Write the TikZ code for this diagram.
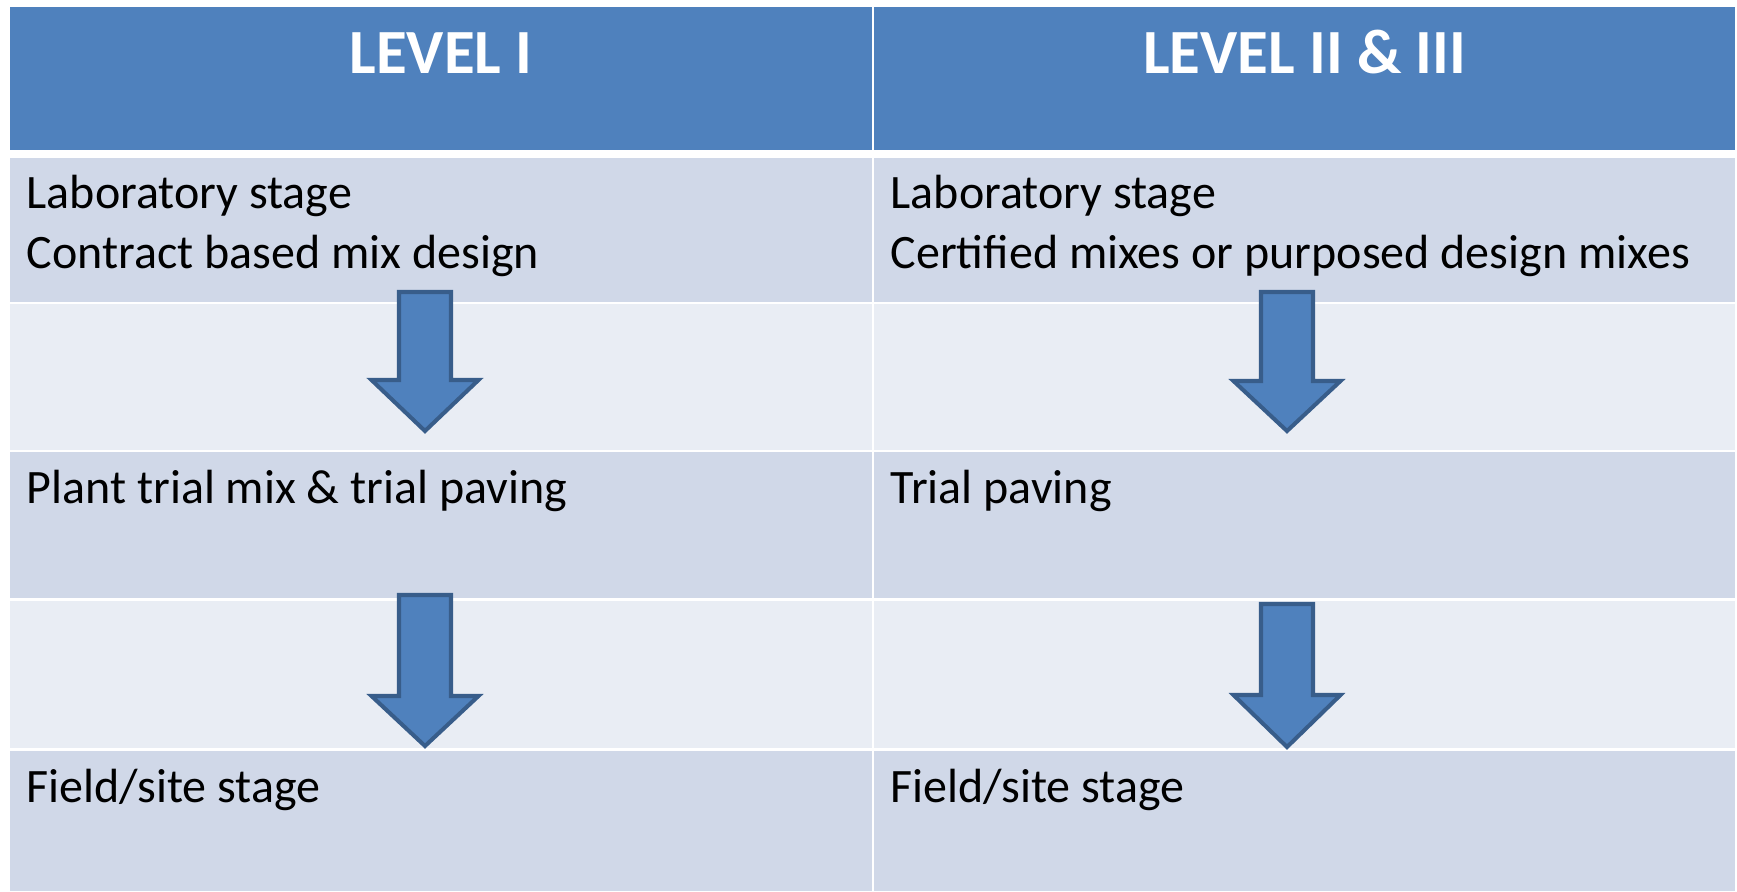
\documentclass[tikz,border=0pt]{standalone}
\usepackage{fontspec}
\setmainfont{Carlito}

\definecolor{headblue}{HTML}{4F81BD}
\definecolor{arrowedge}{HTML}{385D8A}
\definecolor{stagefill}{HTML}{D0D8E8}
\definecolor{gapfill}{HTML}{E9EDF4}

% block arrow: centre x, top y, y of the head step, tip y
\newcommand{\stagearrow}[4]{%
  \draw[blockarrow] (#1-0.26,#2) -- (#1+0.26,#2) -- (#1+0.26,#3) -- (#1+0.535,#3)
    -- (#1,#4) -- (#1-0.535,#3) -- (#1-0.26,#3) -- cycle;}

\begin{document}
\begin{tikzpicture}[
    cell/.style={rectangle, anchor=north west, inner sep=0pt, outer sep=0pt},
    leftcol/.style={cell, minimum width=8.62cm},
    rightcol/.style={cell, minimum width=8.61cm},
    headcell/.style={fill=headblue, minimum height=1.43cm},
    stagecell/.style={fill=stagefill},
    gapcell/.style={fill=gapfill},
    headtext/.style={anchor=base, inner sep=0pt, text=white, font=\fontsize{17.9pt}{21.8pt}\selectfont\bfseries},
    stagetext/.style={anchor=base west, inner sep=0pt, align=left, font=\fontsize{13.66pt}{16.8pt}\selectfont},
    blockarrow/.style={fill=headblue, draw=arrowedge, line width=1.15pt, line join=miter}
]
\useasboundingbox (0,0) rectangle (17.37,8.91);

% Header row
\node[leftcol, headcell] (headA) at (0.10,8.84) {};
\node[rightcol, headcell] (headB) at (8.74,8.84) {};
\node[headtext] (levA) at ([yshift=-0.66cm]headA.north) {LEVEL I};
\node[headtext] (levB) at ([yshift=-0.66cm]headB.north) {LEVEL II \& III};

% Left column
\node[leftcol, stagecell, minimum height=1.44cm] (a1) at (0.10,7.33) {};
\node[leftcol, gapcell, minimum height=1.46cm] (a2) at (0.10,5.87) {};
\node[leftcol, stagecell, minimum height=1.46cm] (a3) at (0.10,4.39) {};
\node[leftcol, gapcell, minimum height=1.47cm] (a4) at (0.10,2.90) {};
\node[leftcol, stagecell, minimum height=1.40cm] (a5) at (0.10,1.40) {};

% Right column
\node[rightcol, stagecell, minimum height=1.44cm] (b1) at (8.74,7.33) {};
\node[rightcol, gapcell, minimum height=1.46cm] (b2) at (8.74,5.87) {};
\node[rightcol, stagecell, minimum height=1.46cm] (b3) at (8.74,4.39) {};
\node[rightcol, gapcell, minimum height=1.47cm] (b4) at (8.74,2.90) {};
\node[rightcol, stagecell, minimum height=1.40cm] (b5) at (8.74,1.40) {};

% Stage texts (base anchor sits on the last line, so two-line cells go one line lower)
\node[stagetext] (ta1) at ([shift={(0.16,-1.10)}]a1.north west) {Laboratory stage\\Contract based mix design};
\node[stagetext] (ta3) at ([shift={(0.16,-0.51)}]a3.north west) {Plant trial mix \& trial paving};
\node[stagetext] (ta5) at ([shift={(0.16,-0.51)}]a5.north west) {Field/site stage};

\node[stagetext] (tb1) at ([shift={(0.16,-1.10)}]b1.north west) {Laboratory stage\\Certified mixes or purposed design mixes};
\node[stagetext] (tb3) at ([shift={(0.16,-0.51)}]b3.north west) {Trial paving};
\node[stagetext] (tb5) at ([shift={(0.16,-0.51)}]b5.north west) {Field/site stage};

% Arrows between the stages
\stagearrow{4.25}{5.99}{5.11}{4.60}
\stagearrow{12.87}{5.99}{5.10}{4.60}
\stagearrow{4.25}{2.96}{1.95}{1.45}
\stagearrow{12.87}{2.87}{1.96}{1.44}

\end{tikzpicture}
\end{document}
